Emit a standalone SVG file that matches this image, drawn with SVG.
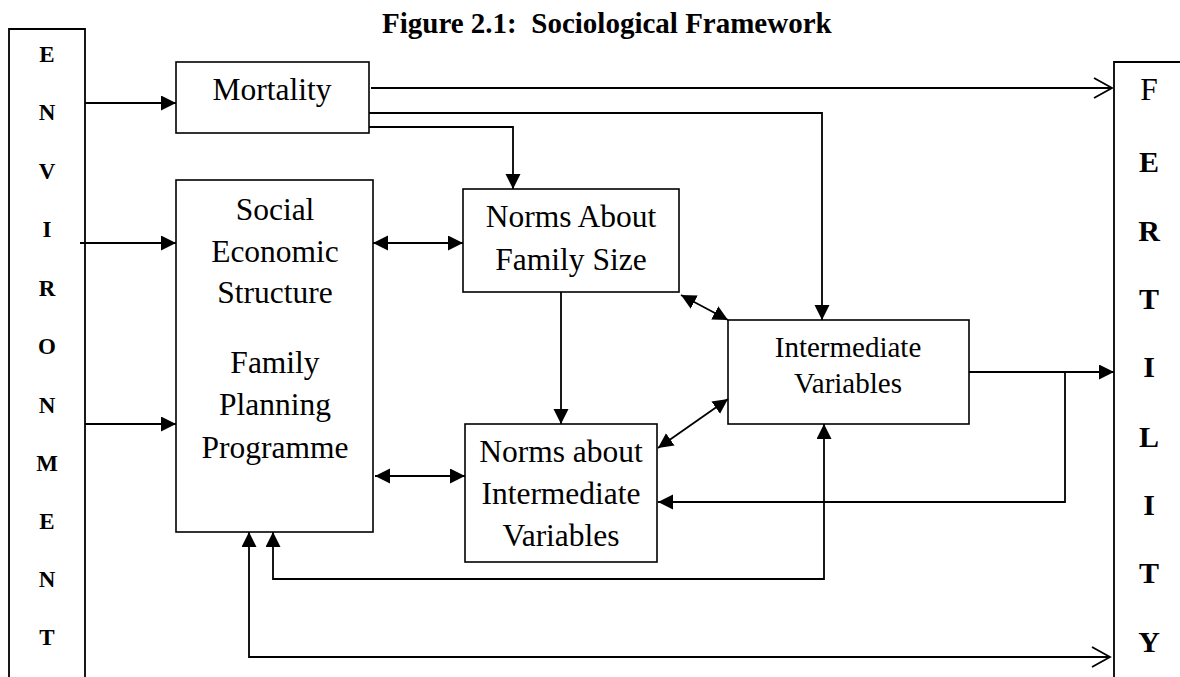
<svg xmlns="http://www.w3.org/2000/svg" width="1180" height="677" viewBox="0 0 1180 677">
<style>
.box{fill:#fff;stroke:#000;stroke-width:1.6}
.ln{fill:none;stroke:#000;stroke-width:1.8}
.t{font-family:"Liberation Serif","Times New Roman",serif;fill:#000;text-anchor:middle}
.big{font-size:31.5px}
.iv{font-size:29px}
.le{font-size:23px;font-weight:bold}
.re{font-size:30px;font-weight:bold}
.title{font-family:"Liberation Serif","Times New Roman",serif;font-size:29px;font-weight:bold;fill:#000}
</style>
<defs>
<marker id="arr" markerUnits="userSpaceOnUse" markerWidth="16" markerHeight="16" refX="15" refY="7.5" orient="auto-start-reverse" viewBox="0 0 16 16">
<path d="M0,0 L15,7.5 L0,15 z" fill="#000"/>
</marker>
<marker id="open" markerUnits="userSpaceOnUse" markerWidth="22" markerHeight="24" refX="19" refY="11" orient="auto" viewBox="0 0 22 24">
<path d="M1,1 L19,11 L1,21" fill="none" stroke="#000" stroke-width="1.8"/>
</marker>
</defs>
<rect width="1180" height="677" fill="#fff"/>
<g id="title">
<text class="title" x="382" y="33">Figure 2.1:&#160; Sociological Framework</text>
</g>
<g id="environment">
<path class="ln" d="M9,690 V29 H85 V690"/>
<text class="t le" x="47" y="62">E</text>
<text class="t le" x="47" y="120">N</text>
<text class="t le" x="47" y="179">V</text>
<text class="t le" x="47" y="237">I</text>
<text class="t le" x="47" y="296">R</text>
<text class="t le" x="47" y="354">O</text>
<text class="t le" x="47" y="413">N</text>
<text class="t le" x="47" y="471">M</text>
<text class="t le" x="47" y="529">E</text>
<text class="t le" x="47" y="587">N</text>
<text class="t le" x="47" y="645">T</text>
</g>
<g id="fertility">
<path class="ln" d="M1114,690 V62 H1190"/>
<text class="t big" x="1149" y="100">F</text>
<text class="t re" x="1149" y="172">E</text>
<text class="t re" x="1149" y="241">R</text>
<text class="t re" x="1149" y="309">T</text>
<text class="t re" x="1149" y="377">I</text>
<text class="t re" x="1149" y="447">L</text>
<text class="t re" x="1149" y="515">I</text>
<text class="t re" x="1149" y="583">T</text>
<text class="t re" x="1149" y="652">Y</text>
</g>
<g id="mortality">
<rect class="box" x="176" y="62" width="193" height="71"/>
<text class="t big" x="272" y="100">Mortality</text>
</g>
<g id="social">
<rect class="box" x="176" y="180" width="197" height="352"/>
<text class="t big" x="275" y="220">Social</text>
<text class="t big" x="275" y="262">Economic</text>
<text class="t big" x="275" y="303">Structure</text>
<text class="t big" x="275" y="373">Family</text>
<text class="t big" x="275" y="415">Planning</text>
<text class="t big" x="275" y="458">Programme</text>
</g>
<g id="norms-family-size">
<rect class="box" x="463" y="189" width="216" height="103"/>
<text class="t big" x="571" y="227">Norms About</text>
<text class="t big" x="571" y="270">Family Size</text>
</g>
<g id="norms-intermediate">
<rect class="box" x="465" y="424" width="192" height="138"/>
<text class="t big" x="561" y="462">Norms about</text>
<text class="t big" x="561" y="504">Intermediate</text>
<text class="t big" x="561" y="546">Variables</text>
</g>
<g id="intermediate-variables">
<rect class="box" x="728" y="320" width="241" height="104"/>
<text class="t iv" x="848" y="357">Intermediate</text>
<text class="t iv" x="848" y="393">Variables</text>
</g>
<g id="connectors">
<path class="ln" d="M85,103 H176" marker-end="url(#arr)"/>
<path class="ln" d="M80,243 H176" marker-end="url(#arr)"/>
<path class="ln" d="M85,424 H176" marker-end="url(#arr)"/>
<path class="ln" d="M371,88 H1112" marker-end="url(#open)"/>
<path class="ln" d="M369,113 H822 V320" marker-end="url(#arr)"/>
<path class="ln" d="M369,127 H513 V189" marker-end="url(#arr)"/>
<path class="ln" d="M373,243 H463" marker-start="url(#arr)" marker-end="url(#arr)"/>
<path class="ln" d="M561,292 V424" marker-end="url(#arr)"/>
<path class="ln" d="M681,295 L728,320" marker-start="url(#arr)" marker-end="url(#arr)"/>
<path class="ln" d="M375,476 H465" marker-start="url(#arr)" marker-end="url(#arr)"/>
<path class="ln" d="M658,448 L728,399" marker-start="url(#arr)" marker-end="url(#arr)"/>
<path class="ln" d="M969,372 H1114" marker-end="url(#arr)"/>
<path class="ln" d="M1065,372 V502 H658" marker-end="url(#arr)"/>
<path class="ln" d="M273,532 V579 H824 V424" marker-start="url(#arr)" marker-end="url(#arr)"/>
<path class="ln" d="M249,532 V657 H1110" marker-start="url(#arr)" marker-end="url(#open)"/>
</g>
</svg>
